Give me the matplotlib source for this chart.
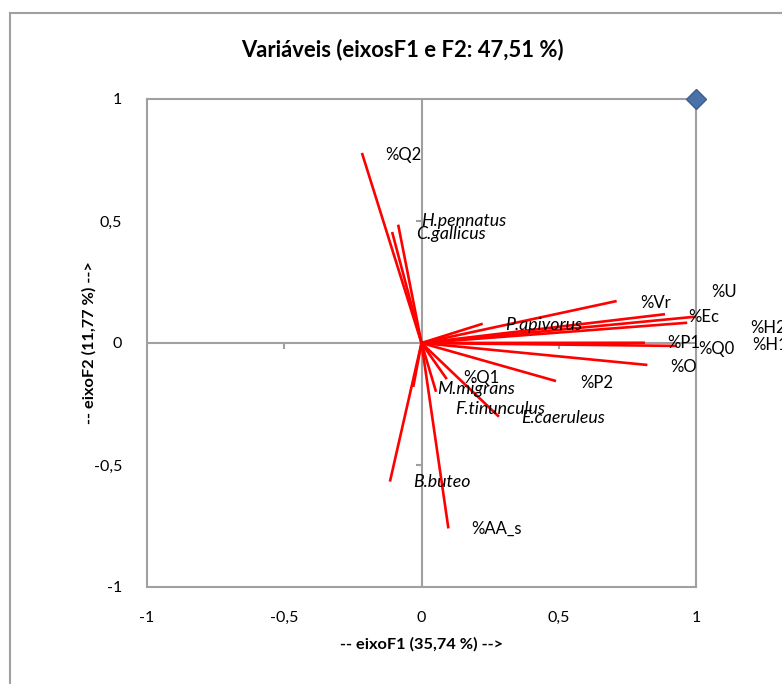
import matplotlib.pyplot as plt
from matplotlib.lines import Line2D

# variable vectors (end points on F1 / F2)
vec_f1 = [-0.217, -0.085, -0.107, 0.711, 0.887, 1.0, 0.968, 0.223, 0.814, 0.93,
          0.823, 0.49, 0.092, 0.053, 0.282, 0.098, -0.115, -0.03]
vec_f2 = [0.779, 0.485, 0.455, 0.172, 0.118, 0.108, 0.083, 0.079, 0.001, -0.012,
          -0.09, -0.156, -0.148, -0.2, -0.302, -0.76, -0.568, -0.18]

# labels as placed in the original chart
lab_text = ["%Q2", "H.pennatus", "C.gallicus", "%U", "%Vr", "%Ec", "%H2", "%H1",
            "P.apivorus", "%P1", "%Q0", "%O", "%P2", "%Q1", "M.migrans",
            "F.tinunculus", "E.caeruleus", "B.buteo", "%AA_s"]
lab_x = [-0.133, -0.002, -0.020, 1.055, 0.796, 0.971, 1.197, 1.204, 0.304, 0.894,
         1.007, 0.905, 0.577, 0.151, 0.056, 0.122, 0.362, -0.031, 0.180]
lab_y = [0.770, 0.500, 0.447, 0.209, 0.164, 0.107, 0.061, -0.008, 0.074, 0.0,
         -0.025, -0.098, -0.164, -0.143, -0.189, -0.270, -0.307, -0.570, -0.762]

ticks = [-1, -0.5, 0, 0.5, 1]
tick_labels = ["-1", "-0,5", "0", "0,5", "1"]

plt.rcParams['font.family'] = ['Lato', 'DejaVu Sans']

fig = plt.figure(figsize=(7.82, 6.84), dpi=100)
ax = fig.add_axes([147/782, 1 - 587/684, 549/782, 488/684])

# outer chart frame (only left and top visible in the crop)
fig.add_artist(Line2D([10/782, 10/782], [0, 1 - 13/684], transform=fig.transFigure,
                      color="#a0a0a0", lw=1.5))
fig.add_artist(Line2D([10/782, 1], [1 - 13/684, 1 - 13/684], transform=fig.transFigure,
                      color="#a0a0a0", lw=1.5))

ax.set_xlim(-1, 1)
ax.set_ylim(-1, 1)
for s in ax.spines.values():
    s.set_color("#a0a0a0")
    s.set_linewidth(1.5)

ax.axhline(0, color="#a0a0a0", lw=1.5, zorder=1)
ax.axvline(0, color="#a0a0a0", lw=1.5, zorder=1)
tv = [t for t in ticks if t not in (-1, 0, 1)]
ax.plot(tv, [0] * len(tv), ls="none", marker=3, ms=4, mew=1.5, color="#a0a0a0")
ax.plot([0] * len(tv), tv, ls="none", marker=0, ms=4, mew=1.5, color="#a0a0a0")

ax.set_xticks(ticks)
ax.set_xticklabels(tick_labels)
ax.set_yticks(ticks)
ax.set_yticklabels(tick_labels)
ax.tick_params(length=0, labelsize=11.5, colors="black")
ax.tick_params(axis="x", pad=17)
ax.tick_params(axis="y", pad=18)

for x, y in zip(vec_f1, vec_f2):
    ax.plot([0, x], [0, y], color="red", lw=1.9, zorder=3, solid_capstyle="butt")

for t, x, y in zip(lab_text, lab_x, lab_y):
    if t.startswith("%"):
        ax.text(x, y, t, ha="left", va="center", fontsize=12, zorder=4, clip_on=False)
    else:
        ax.text(x, y, t, ha="left", va="center", fontsize=12.8, style="italic",
                zorder=4, clip_on=False)

ax.plot([1], [1], ls="none", marker="D", ms=10, color="#4a72a8", mec="#3b5f8f",
        zorder=5, clip_on=False)

fig.text(402/782, 1 - 50/684, "Variáveis (eixosF1 e F2: 47,51 %)", fontsize=15.8,
         fontweight="bold", ha="center", va="center")
ax.set_xlabel("-- eixoF1 (35,74 %) -->", fontsize=11.8, fontweight="bold", labelpad=9)
ax.set_ylabel("-- eixoF2 (11,77 %) -->", fontsize=11.8, fontweight="bold", labelpad=-2)

fig.savefig("out.png", dpi=100)
